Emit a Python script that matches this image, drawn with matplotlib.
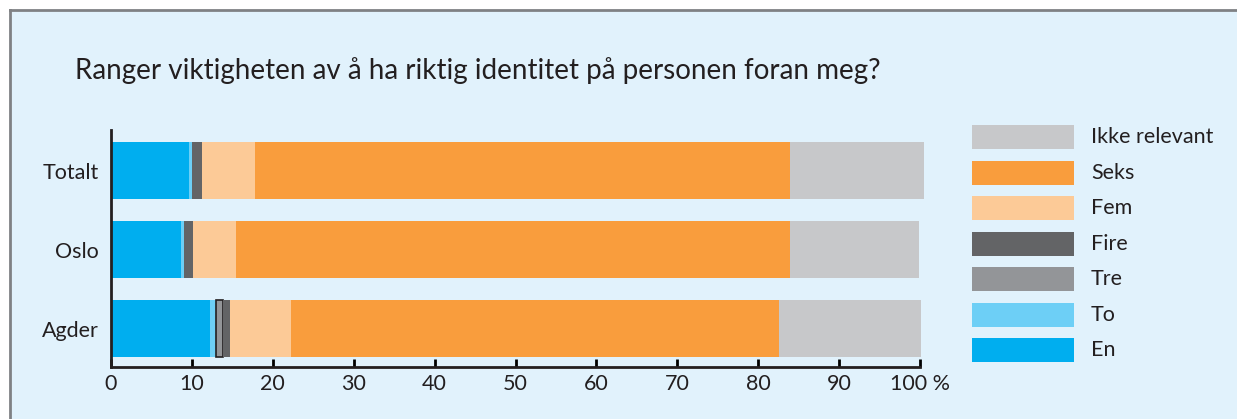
import numpy as np
import matplotlib.pyplot as plt
from matplotlib.patches import Rectangle

plt.rcParams['font.family'] = ['Lato', 'DejaVu Sans']

# ── Data (prosent) ────────────────────────────────────────────────────────────
categories = ['Totalt', 'Oslo', 'Agder']
series = ['En', 'To', 'Tre', 'Fire', 'Fem', 'Seks', 'Ikke relevant']
en    = [9.6, 8.7, 12.2]
to    = [0.4, 0.3, 0.8]
tre   = [0.0, 0.0, 0.9]
fire  = [1.2, 1.1, 0.8]
fem   = [6.6, 5.3, 7.5]
seks  = [66.1, 68.5, 60.4]
ikke  = [16.6, 16.0, 17.5]
values = [en, to, tre, fire, fem, seks, ikke]
xticks = [0, 10, 20, 30, 40, 50, 60, 70, 80, 90, 100]
xticklabels = ['0', '10', '20', '30', '40', '50', '60', '70', '80', '90', '100 %']

colors = ['#00AEEF', '#6DCFF6', '#939598', '#636466', '#FCCA97', '#F99D3D', '#C7C8CA']
BG = '#E1F2FC'
TXT = '#231F20'
FS = 15.5

# ── Figur ─────────────────────────────────────────────────────────────────────
fig = plt.figure(figsize=(12.37, 4.19), dpi=100)
fig.patch.set_facecolor('white')
W, H = 1237, 419

# panel med ramme oppe og til venstre
fig.patches.append(Rectangle((10 / W, 0), 1 - 10 / W, (H - 10) / H, transform=fig.transFigure,
                             facecolor=BG, edgecolor='none', zorder=-2))
fig.add_artist(plt.Line2D([10 / W, 1], [(H - 10) / H] * 2, transform=fig.transFigure,
                          color='#7F8184', lw=2))
fig.add_artist(plt.Line2D([10 / W, 10 / W], [0, (H - 10) / H], transform=fig.transFigure,
                          color='#7F8184', lw=2))

fig.text(75 / W, 1 - 71 / H, 'Ranger viktigheten av å ha riktig identitet på personen foran meg?',
         fontsize=20, va='center', ha='left', color=TXT)

ax = fig.add_axes([111 / W, (H - 367) / H, 809 / W, 237 / H])
ax.set_facecolor('none')

y = np.arange(len(categories))
left = np.zeros(len(categories))
for name, vals, col in zip(series, values, colors):
    edges = ['none'] * len(categories)
    if name == 'Tre':
        edges = ['none', 'none', TXT]
    ax.barh(y, vals, left=left, height=0.72, color=col, edgecolor=edges,
            linewidth=1.2, clip_on=False)
    left += np.array(vals)

ax.set_xlim(0, 100)
ax.set_ylim(2.487, -0.513)
ax.set_yticks(y)
ax.set_yticklabels(categories, fontsize=FS, color=TXT)
ax.tick_params(axis='y', length=0, pad=9)
ax.set_xticks(xticks)
ax.set_xticklabels(xticklabels, fontsize=FS, color=TXT)
ax.tick_params(axis='x', direction='in', length=6, width=2, pad=5)

for s in ['top', 'right']:
    ax.spines[s].set_visible(False)
for s in ['left', 'bottom']:
    ax.spines[s].set_linewidth(2)
    ax.spines[s].set_color(TXT)

# ── Legende ───────────────────────────────────────────────────────────────────
leg_tops = [125, 161, 196, 232, 267, 303, 338]
for name, col, top in zip(series[::-1], colors[::-1], leg_tops):
    fig.patches.append(Rectangle((972 / W, 1 - (top + 24) / H), 102 / W, 24 / H,
                                 transform=fig.transFigure, facecolor=col, edgecolor='none'))
    fig.text(1091 / W, 1 - (top + 12) / H, name, fontsize=FS, va='center', ha='left',
             color=TXT)

fig.savefig('out.png', dpi=100)
